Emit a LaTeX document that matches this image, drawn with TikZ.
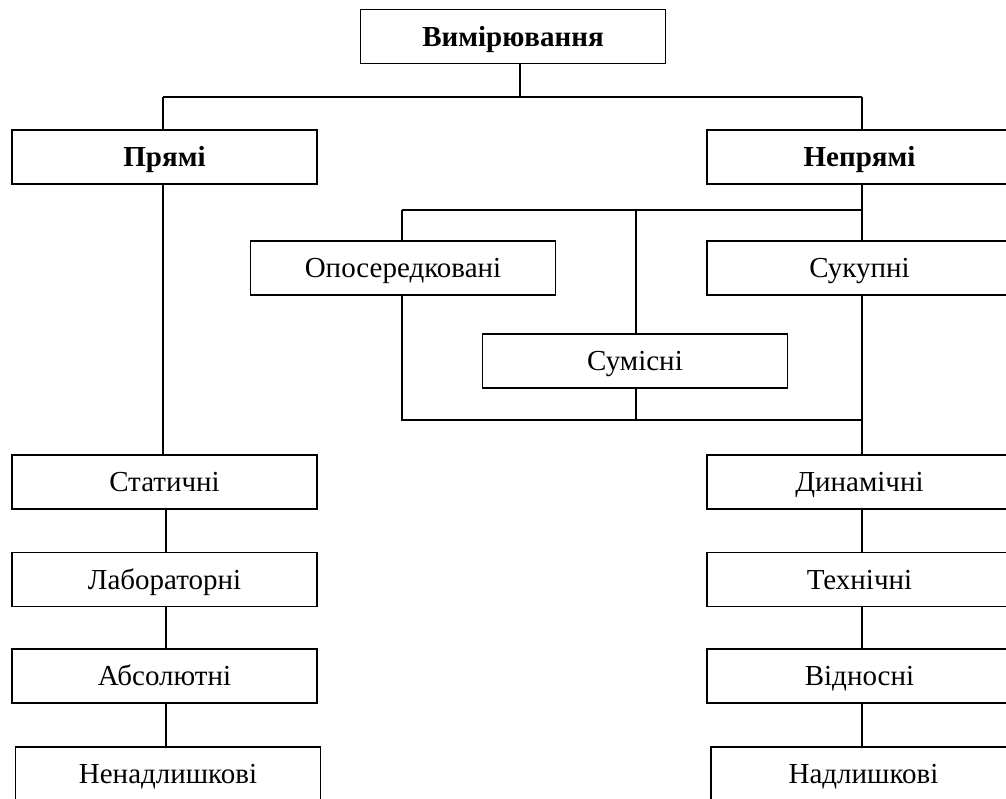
\documentclass[tikz,border=0pt]{standalone}
\usepackage{fontspec}
\setmainfont{Liberation Serif}
\begin{document}
\begin{tikzpicture}[x=1pt,y=-1pt,
  box/.style={draw,line width=1.9pt,minimum width=305pt,minimum height=54pt,inner sep=0pt,
    text height=19.2pt,text depth=0pt,
    font=\fontsize{29}{33}\selectfont},
  hbox/.style={box,font=\fontsize{29}{33}\selectfont\bfseries},
  conn/.style={line width=1.9pt}]
\useasboundingbox (0,0) rectangle (1006,798);
\clip (0,0) rectangle (1006,798);
% nodes
\node[hbox] (top) at (513,36.5) {Вимірювання};
\node[hbox] (p) at (164.5,157) {Прямі};
\node[hbox] (np) at (859.5,157) {Непрямі};
\node[box] (op) at (403,268) {Опосередковані};
\node[box] (sk) at (859.5,268) {Сукупні};
\node[box] (sm) at (635,361) {Сумісні};
\node[box] (st) at (164.5,482) {Статичні};
\node[box] (lab) at (164.5,579.5) {Лабораторні};
\node[box] (abs) at (164.5,676) {Абсолютні};
\node[box] (nen) at (168,774) {Ненадлишкові};
\node[box] (din) at (859.5,482) {Динамічні};
\node[box] (teh) at (859.5,579.5) {Технічні};
\node[box] (vid) at (859.5,676) {Відносні};
\node[box] (nad) at (863.5,774) {Надлишкові};
% junctions
\coordinate (j0) at (520,97);
\coordinate (pl) at (163,97);
\coordinate (pr) at (862,97);
\coordinate (ls) at (166,0);
\coordinate (b1) at (402,210);
\coordinate (b2) at (636,210);
\coordinate (b3) at (862,210);
\coordinate (c1) at (402,420);
\coordinate (c2) at (636,420);
\coordinate (c3) at (862,420);
% connectors
\draw[conn] (top.south -| j0) -- (j0);
\draw[conn] (pl) -- (pr);
\draw[conn] (pl) -- (p.north -| pl);
\draw[conn] (pr) -- (np.north -| pr);
\draw[conn] (p.south -| pl) -- (st.north -| pl);
\draw[conn] (st.south -| ls) -- (lab.north -| ls);
\draw[conn] (lab.south -| ls) -- (abs.north -| ls);
\draw[conn] (abs.south -| ls) -- (nen.north -| ls);
\draw[conn] (b1) -- (b3);
\draw[conn] (b1) -- (op.north -| b1);
\draw[conn] (b2) -- (sm.north -| b2);
\draw[conn] (np.south -| b3) -- (sk.north -| b3);
\draw[conn] (op.south -| c1) -- (c1) -- (c3);
\draw[conn] (sm.south -| c2) -- (c2);
\draw[conn] (sk.south -| c3) -- (din.north -| c3);
\draw[conn] (din.south -| c3) -- (teh.north -| c3);
\draw[conn] (teh.south -| c3) -- (vid.north -| c3);
\draw[conn] (vid.south -| c3) -- (nad.north -| c3);
\end{tikzpicture}
\end{document}
